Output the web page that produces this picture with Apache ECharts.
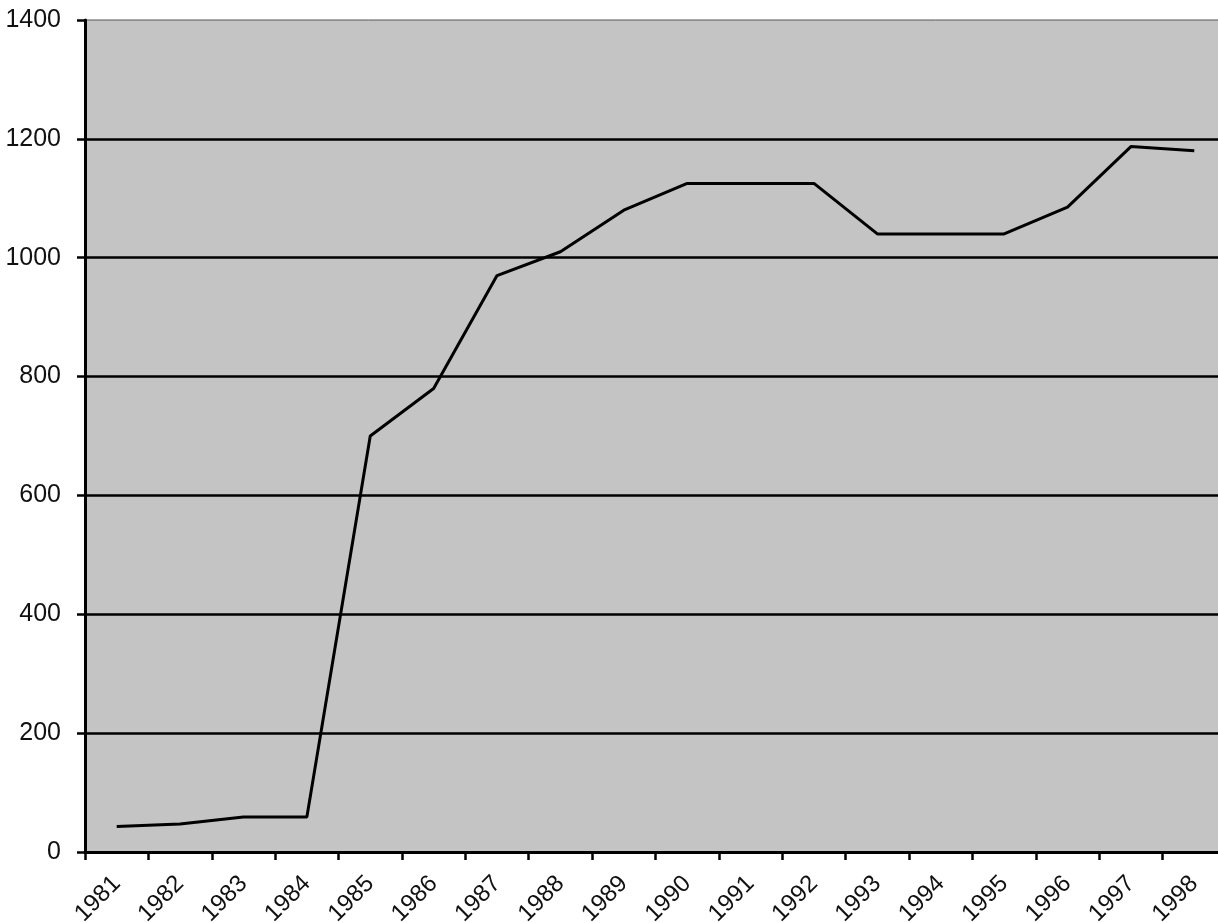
<!DOCTYPE html>
<html>
<head>
<meta charset="utf-8">
<script src="https://cdn.jsdelivr.net/npm/echarts@6/dist/echarts.min.js"></script>
<style>
html,body{margin:0;padding:0;background:#fff;}
#chart{width:1218px;height:923px;}
</style>
</head>
<body>
<div id="chart"></div>
<script>
const years = ['1981','1982','1983','1984','1985','1986','1987','1988','1989','1990','1991','1992','1993','1994','1995','1996','1997','1998'];
const values = [43, 47, 59, 59, 700, 780, 970, 1010, 1080, 1125, 1125, 1125, 1040, 1040, 1040, 1085, 1187, 1180];
const yMin = 0, yMax = 1400, yStep = 200;

const chart = echarts.init(document.getElementById('chart'), null, {renderer: 'canvas'});
chart.setOption({
  animation: false,
  backgroundColor: '#ffffff',
  grid: {
    left: 85, right: -8, top: 20, bottom: 71,
    containLabel: false,
    outerBoundsMode: 'none',
    show: true,
    backgroundColor: '#c4c4c4',
    borderColor: '#555555',
    borderWidth: 1
  },
  xAxis: {
    type: 'category',
    data: years,
    boundaryGap: true,
    axisLine: {show: true, lineStyle: {color: '#000', width: 3}},
    axisTick: {show: true, alignWithLabel: false, length: 8, lineStyle: {color: '#000', width: 2.5}},
    axisLabel: {
      rotate: 45, margin: 28, interval: 0,
      fontFamily: 'Liberation Sans, Arial, sans-serif', fontSize: 24, color: '#111'
    },
    splitLine: {show: false}
  },
  yAxis: {
    type: 'value',
    min: yMin, max: yMax, interval: yStep,
    axisLine: {show: true, lineStyle: {color: '#000', width: 3}},
    axisTick: {show: true, length: 8, lineStyle: {color: '#000', width: 2.5}},
    axisLabel: {
      margin: 24,
      formatter: function (v) { return String(v); },
      fontFamily: 'Liberation Sans, Arial, sans-serif', fontSize: 25, color: '#111'
    },
    splitLine: {show: true, showMinLine: false, showMaxLine: false, lineStyle: {color: '#000', width: 2.5}}
  },
  series: [{
    type: 'line',
    data: values,
    symbol: 'none',
    lineStyle: {color: '#000', width: 3},
    clip: false
  }]
});
</script>
</body>
</html>
